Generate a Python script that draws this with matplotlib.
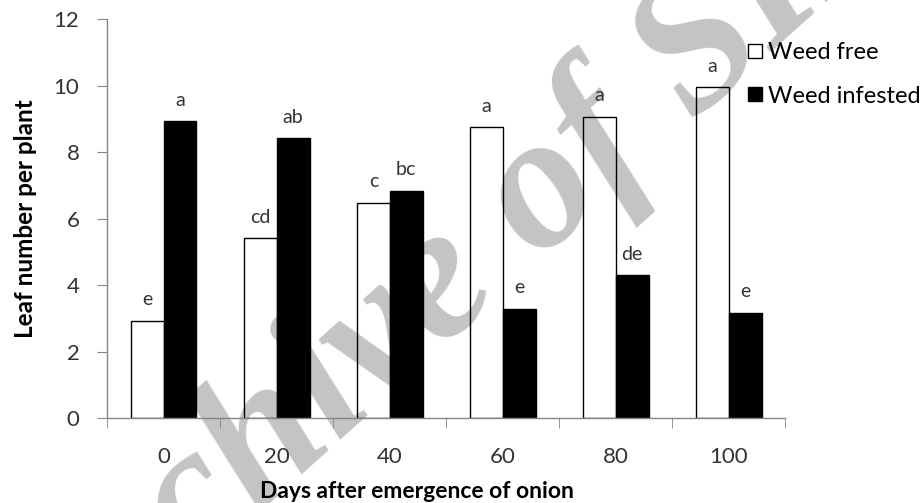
"""
Leaf number per plant - weed free vs weed infested
"""
import numpy as np
import matplotlib
matplotlib.use('Agg')
import matplotlib.pyplot as plt
from matplotlib.lines import Line2D

# 数据
days = ['0', '20', '40', '60', '80', '100']
weed_free = [2.92, 5.41, 6.48, 8.75, 9.07, 9.95]
weed_infested = [8.92, 8.42, 6.83, 3.29, 4.30, 3.17]
free_letters = ['e', 'cd', 'c', 'a', 'a', 'a']
infested_letters = ['a', 'ab', 'bc', 'e', 'de', 'e']

plt.rcParams['font.family'] = ['Lato', 'DejaVu Sans']

fig = plt.figure(figsize=(9.24, 5.03), dpi=100)
ax = fig.add_axes([0.116, 0.169, 0.734, 0.793])
ax.set_zorder(1)
ax.set_facecolor('none')

x = np.arange(len(days))
w = 0.29
b1 = ax.bar(x - w / 2, weed_free, w, color='none', edgecolor='black', linewidth=1.0)
b2 = ax.bar(x + w / 2, weed_infested, w, color='black', edgecolor='black', linewidth=1.0)

# 字母标注
for bars, letters in [(b1, free_letters), (b2, infested_letters)]:
    for bar, lab in zip(bars, letters):
        ax.annotate(lab, (bar.get_x() + bar.get_width() / 2, bar.get_height()),
                    textcoords='offset points', xytext=(0, 9), ha='center', va='bottom',
                    fontsize=14, color='#333333')

ax.set_xlim(-0.5, len(days) - 0.5)
ax.set_ylim(0, 12)
ax.set_yticks(range(0, 13, 2))
ax.set_xticks(x)
ax.set_xticklabels(days)
ax.set_xticks(np.arange(-0.5, len(days)), minor=True)
ax.tick_params(axis='x', which='major', length=0, pad=21, labelsize=16, labelcolor='#333333')
ax.tick_params(axis='x', which='minor', length=7, color='#868686', direction='out')
ax.tick_params(axis='y', length=7, color='#868686', labelsize=16, labelcolor='#333333', pad=13)

for s in ['top', 'right']:
    ax.spines[s].set_visible(False)
for s in ['left', 'bottom']:
    ax.spines[s].set_color('#868686')
    ax.spines[s].set_linewidth(1.0)

ax.set_ylabel('Leaf number per plant', fontsize=17.5, fontweight='bold', labelpad=12)
ax.set_xlabel('Days after emergence of onion', fontsize=16.5, fontweight='bold')
ax.xaxis.set_label_coords(0.456, -0.158)

handles = [Line2D([], [], marker='s', linestyle='', markerfacecolor='white', markeredgecolor='black', markersize=10.5),
           Line2D([], [], marker='s', linestyle='', markerfacecolor='black', markeredgecolor='black', markersize=10.5)]
fig.legend(handles, ['Weed free', 'Weed infested'], loc='upper left', bbox_to_anchor=(0.798, 0.935),
           frameon=False, fontsize=17, handlelength=0.7, handletextpad=0.2, labelspacing=0.95,
           borderaxespad=0)

# 水印 (在柱子下面)
fig.text(0.497, 0.447, 'Archive of SID', fontsize=138, fontweight='bold', fontstyle='italic',
         family='Liberation Serif', color='#c4c4c4', rotation=42, rotation_mode='anchor',
         ha='center', va='center', zorder=0.5)

plt.savefig('out.png', dpi=100)
plt.close()
